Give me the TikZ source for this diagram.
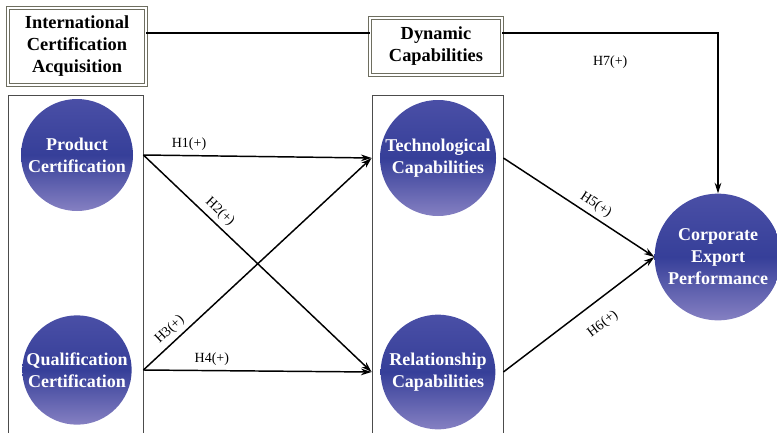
\documentclass[tikz,border=0pt]{standalone}
\usepackage{fontspec}
\setmainfont{Liberation Serif}
\usetikzlibrary{arrows.meta}
\definecolor{cbtop}{HTML}{4A4FA6}
\definecolor{cbmid}{HTML}{363F99}
\definecolor{cbbot}{HTML}{8580C2}
\definecolor{boxline}{HTML}{6E6E60}
\tikzset{
  headbox/.style={draw=boxline,double=white,double distance=1.4pt,line width=0.7pt,fill=white,align=center,
    font=\fontsize{13.8}{16.5}\selectfont\bfseries,inner sep=2pt},
  column/.style={draw=black!70,line width=0.6pt,minimum height=266pt},
  concept/.style={circle,top color=cbtop,bottom color=cbbot,middle color=cbmid,text=white,align=center,
    font=\fontsize{13.5}{16.5}\selectfont\bfseries,inner sep=0pt},
  link/.style={line width=1.1pt,-{Stealth[length=8pt,width=5pt]}},
  hyp/.style={font=\fontsize{10.5}{12}\selectfont,text=black}
}
\begin{document}
\begin{tikzpicture}[x=0.75pt,y=-0.75pt]
\useasboundingbox (0,0) rectangle (777,432);
\clip (0,0) rectangle (777,432);
% headers
\node[headbox,minimum width=103.5pt,minimum height=57.75pt] (ica) at (77,46.5) {International\\Certification\\Acquisition};
\node[headbox,minimum width=99pt,minimum height=42.75pt] (dc) at (436,46.5) {Dynamic\\Capabilities};
% columns
\node[column,minimum width=101.25pt] (colL) at (75.5,272.5) {};
\node[column,minimum width=98.25pt] (colM) at (437.5,272.5) {};
% constructs
\node[concept,minimum size=84pt] (pc) at (77,155) {Product\\Certification};
\node[concept,minimum size=82pt] (qc) at (77,370) {Qualification\\Certification};
\node[concept,minimum size=87pt] (tc) at (438,158) {Technological\\Capabilities};
\node[concept,minimum size=86pt] (rc) at (438,372) {Relationship\\Capabilities};
\node[concept,minimum size=95pt] (cep) at (718,257) {Corporate\\Export\\Performance};
\coordinate (topline) at (0,33);
% paths
\draw[link] (pc -| colL.east) -- (tc -| colM.west) node[hyp,pos=0.2,above] {H1(+)};
\draw[link] (pc -| colL.east) -- (rc -| colM.west) node[hyp,pos=0.3,above,sloped] {H2(+)};
\draw[link] (qc -| colL.east) -- (tc -| colM.west) node[hyp,pos=0.15,above,sloped] {H3(+)};
\draw[link] (qc -| colL.east) -- (rc -| colM.west) node[hyp,pos=0.3,above] {H4(+)};
\draw[link] (tc -| colM.east) -- (cep.west) node[hyp,pos=0.57,above,sloped] {H5(+)};
\draw[link] (rc -| colM.east) -- (cep.west) node[hyp,pos=0.57,below=8pt,sloped] {H6(+)};
\draw[line width=1.1pt] (ica.east |- topline) -- (dc.west |- topline);
\draw[link] (dc.east |- topline) -| (cep.north) node[hyp,pos=0.25,below=13pt] {H7(+)};
\end{tikzpicture}
\end{document}
